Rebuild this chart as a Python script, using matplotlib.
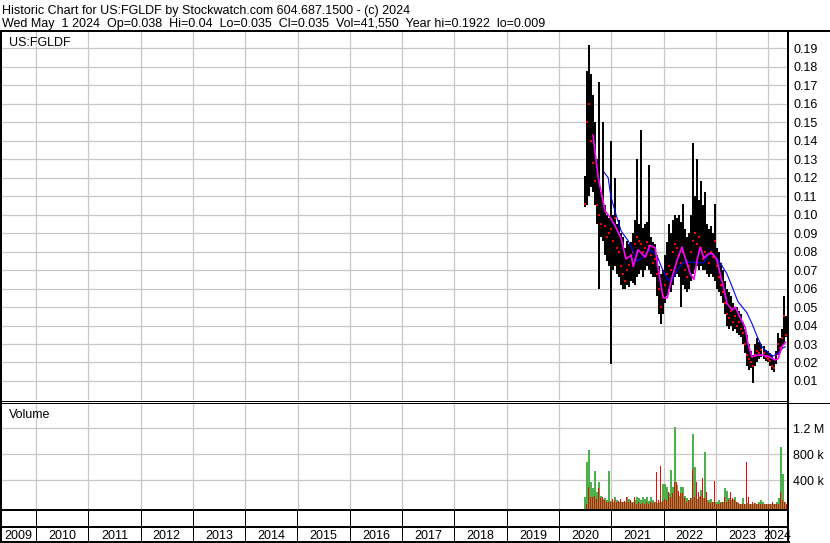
import numpy as np
import pandas as pd
import matplotlib
matplotlib.use('Agg')
import matplotlib.pyplot as plt
from matplotlib.lines import Line2D

# ==============================================================================
# Data
#
dates = pd.date_range('2020-07-01', periods=101, freq='14D')
highs = [
    0.121, 0.178, 0.192, 0.176, 0.165, 0.150, 0.130, 0.172, 0.112, 0.150,
    0.105, 0.100, 0.098, 0.140, 0.100, 0.120, 0.095, 0.097, 0.090, 0.088,
    0.082, 0.086, 0.084, 0.085, 0.090, 0.097, 0.130, 0.095, 0.146, 0.093,
    0.095, 0.096, 0.127, 0.088, 0.085, 0.084, 0.078, 0.072, 0.068, 0.070,
    0.078, 0.085, 0.095, 0.090, 0.097, 0.100, 0.098, 0.100, 0.096, 0.106,
    0.092, 0.088, 0.090, 0.100, 0.139, 0.110, 0.130, 0.108, 0.118, 0.105,
    0.112, 0.095, 0.092, 0.094, 0.090, 0.106, 0.082, 0.080, 0.074, 0.070,
    0.064, 0.060, 0.058, 0.056, 0.052, 0.050, 0.050, 0.048, 0.046, 0.042,
    0.038, 0.035, 0.030, 0.026, 0.024, 0.030, 0.033, 0.031, 0.030, 0.029,
    0.027, 0.026, 0.025, 0.024, 0.022, 0.026, 0.036, 0.033, 0.038, 0.056,
    0.045,
]
lows = [
    0.104, 0.105, 0.110, 0.115, 0.112, 0.105, 0.095, 0.060, 0.088, 0.086,
    0.078, 0.075, 0.072, 0.019, 0.070, 0.072, 0.068, 0.066, 0.062, 0.060,
    0.060, 0.062, 0.061, 0.064, 0.063, 0.062, 0.066, 0.068, 0.070, 0.066,
    0.070, 0.072, 0.070, 0.068, 0.066, 0.066, 0.056, 0.046, 0.041, 0.046,
    0.052, 0.056, 0.060, 0.058, 0.062, 0.066, 0.068, 0.066, 0.050, 0.062,
    0.060, 0.058, 0.060, 0.064, 0.068, 0.070, 0.072, 0.070, 0.072, 0.070,
    0.070, 0.068, 0.066, 0.068, 0.066, 0.064, 0.060, 0.058, 0.056, 0.052,
    0.046, 0.040, 0.038, 0.040, 0.037, 0.038, 0.036, 0.035, 0.034, 0.030,
    0.025, 0.018, 0.016, 0.017, 0.009, 0.018, 0.020, 0.022, 0.023, 0.022,
    0.021, 0.020, 0.018, 0.016, 0.015, 0.019, 0.024, 0.025, 0.028, 0.030,
    0.034,
]
closes = [
    0.106, 0.150, 0.160, 0.140, 0.128, 0.118, 0.105, 0.100, 0.095, 0.108,
    0.094, 0.088, 0.090, 0.092, 0.086, 0.098, 0.082, 0.080, 0.072, 0.068,
    0.064, 0.070, 0.073, 0.078, 0.080, 0.084, 0.088, 0.086, 0.084, 0.080,
    0.082, 0.085, 0.083, 0.078, 0.074, 0.076, 0.068, 0.060, 0.050, 0.056,
    0.062, 0.068, 0.072, 0.070, 0.080, 0.084, 0.082, 0.078, 0.074, 0.080,
    0.070, 0.066, 0.072, 0.080, 0.086, 0.090, 0.084, 0.088, 0.082, 0.076,
    0.080, 0.078, 0.074, 0.080, 0.077, 0.086, 0.072, 0.066, 0.062, 0.058,
    0.052, 0.046, 0.044, 0.048, 0.042, 0.045, 0.040, 0.042, 0.038, 0.036,
    0.030, 0.024, 0.022, 0.020, 0.018, 0.024, 0.026, 0.025, 0.027, 0.025,
    0.023, 0.022, 0.021, 0.018, 0.017, 0.024, 0.030, 0.028, 0.033, 0.045,
    0.035,
]
                                                 # volume, thousands of shares
volume_up = [
    140, 680, 860, 375, 280, 545, 220, 375, 160, 110,
    120, 90, 540, 80, 70, 140, 90, 60, 70, 60,
    70, 140, 110, 70, 60, 90, 150, 130, 90, 150,
    110, 140, 80, 150, 90, 60, 50, 70, 60, 350,
    340, 300, 200, 555, 300, 1220, 330, 160, 300, 300,
    160, 120, 100, 120, 1120, 600, 110, 140, 250, 130,
    835, 100, 90, 110, 70, 60, 70, 90, 60, 70,
    275, 230, 120, 90, 110, 140, 60, 40, 40, 120,
    30, 50, 40, 30, 40, 50, 40, 60, 100, 60,
    30, 40, 30, 30, 40, 30, 60, 130, 910, 500,
    60,
]
volume_down = [
    40, 300, 150, 150, 160, 110, 280, 120, 150, 90,
    70, 66, 60, 110, 90, 60, 80, 110, 60, 80,
    150, 60, 90, 50, 140, 40, 60, 40, 50, 40,
    70, 40, 60, 50, 60, 528, 90, 615, 80, 110,
    90, 220, 150, 200, 380, 375, 240, 200, 200, 130,
    70, 90, 130, 570, 150, 380, 220, 160, 430, 120,
    220, 70, 50, 60, 385, 40, 40, 50, 60, 140,
    60, 90, 220, 130, 90, 60, 50, 40, 30, 40,
    680, 140, 30, 60, 50, 40, 30, 40, 40, 30,
    40, 30, 40, 60, 30, 40, 40, 220, 100, 60,
    40,
]
                                                             # moving averages
short_ma_years = [
    2020.65, 2020.75, 2020.88, 2020.99, 2021.07, 2021.19, 2021.28, 2021.38,
    2021.42, 2021.51, 2021.65, 2021.74, 2021.84, 2021.89, 2021.99, 2022.07,
    2022.16, 2022.26, 2022.35, 2022.41, 2022.51, 2022.58, 2022.64, 2022.70,
    2022.77, 2022.87, 2022.93, 2023.02, 2023.08, 2023.16, 2023.21, 2023.31,
    2023.37, 2023.46, 2023.56, 2023.61, 2023.69, 2023.79, 2023.90, 2024.03,
    2024.13, 2024.19, 2024.26, 2024.33,
]
short_ma = [
    0.143, 0.120, 0.102, 0.098, 0.094, 0.087, 0.076, 0.078,
    0.072, 0.081, 0.077, 0.0835, 0.082, 0.072, 0.055, 0.055,
    0.066, 0.0755, 0.0825, 0.077, 0.068, 0.065, 0.0755, 0.0825,
    0.0765, 0.079, 0.079, 0.0755, 0.068, 0.059, 0.052, 0.0485,
    0.050, 0.0445, 0.039, 0.0305, 0.023, 0.024, 0.024, 0.023,
    0.0214, 0.022, 0.0285, 0.031,
]
long_ma_years = [
    2020.86, 2020.94, 2020.99, 2021.09, 2021.19, 2021.32, 2021.42, 2021.49,
    2021.61, 2021.74, 2021.87, 2021.97, 2022.07, 2022.16, 2022.26, 2022.35,
    2022.45, 2022.64, 2022.77, 2022.87, 2022.97, 2023.08, 2023.21, 2023.31,
    2023.42, 2023.59, 2023.69, 2023.79, 2023.88, 2023.98, 2024.09, 2024.19,
    2024.28, 2024.33,
]
long_ma = [
    0.123, 0.120, 0.110, 0.100, 0.091, 0.086, 0.080, 0.075,
    0.077, 0.081, 0.078, 0.071, 0.065, 0.064, 0.070, 0.0735,
    0.0745, 0.074, 0.074, 0.079, 0.078, 0.074, 0.068, 0.061,
    0.053, 0.047, 0.041, 0.034, 0.0285, 0.0257, 0.0235, 0.025,
    0.0279, 0.0285,
]
                                                                 # axis labels
years = list(range(2009, 2025))
year_label_pos = [2009.67] + [y + 0.5 for y in range(2010, 2024)] + [2024.18]
price_ticks = [round(0.01*k, 2) for k in range(1, 20)]
volume_ticks = [400e3, 800e3, 1.2e6]
volume_tick_labels = ['400 k', '800 k', '1.2 M']

title_line = 'Historic Chart for US:FGLDF by Stockwatch.com 604.687.1500 - (c) 2024'
info_line = ('Wed May  1 2024  Op=0.038  Hi=0.04  Lo=0.035  Cl=0.035  '
             'Vol=41,550  Year hi=0.1922  lo=0.009')

# ==============================================================================
# Constants
#
W, H = 830, 543
X_MIN, X_MAX = 2009.35, 2024.378
PX_YEAR = 52.3
PX = 0.72                                       # one pixel, in points
GRID_COLOR = '#c8c8c8'
UP_COLOR = '#4cb04c'
DOWN_COLOR = '#ff0000'
FONT_SIZE = 9

plt.rcParams['font.family'] = ['Liberation Sans', 'DejaVu Sans']


def px_rect(x0, y0, x1, y1):
    return [x0/W, 1 - y1/H, (x1 - x0)/W, (y1 - y0)/H]


def fig_line(fig, xs, ys, lw=1.0, color='black'):
    fig.add_artist(Line2D([x/W for x in xs], [1 - y/H for y in ys],
                          transform=fig.transFigure, color=color,
                          linewidth=lw*PX, solid_capstyle='butt'))


def fig_text(fig, x, y, s, **kw):
    fig.text(x/W, 1 - y/H, s, fontsize=FONT_SIZE, **kw)


def decimal_year(d):
    days = 366 if d.is_leap_year else 365
    return d.year + (d.dayofyear - 1)/days


t = np.array([decimal_year(d) for d in dates])

# ==============================================================================
# Plot
#
fig = plt.figure(figsize=(W/100, H/100), dpi=100)
fig.patch.set_facecolor('white')
                                                                  # price panel
ax = fig.add_axes(px_rect(2, 31, 788, 400))
ax.set_xlim(X_MIN, X_MAX)
ax.set_ylim(-0.0003, 0.1994)
ax.set_xticks(years[1:])
ax.set_yticks(price_ticks)
ax.grid(True, color=GRID_COLOR, linewidth=0.9)
ax.set_axisbelow(True)
ax.tick_params(axis='x', length=0, labelbottom=False)
ax.tick_params(axis='y', length=0, labelleft=False, labelright=True,
               labelsize=FONT_SIZE, pad=4.3)
for s in ax.spines.values():
    s.set_visible(False)
ax.vlines(t, lows, highs, color='black', linewidth=1.1, antialiased=False)
ax.scatter(t, closes, marker='s', s=3.5, color='red', linewidths=0, zorder=3)
ax.plot(long_ma_years, long_ma, color='#0000ff', linewidth=0.8, zorder=4)
ax.plot(short_ma_years, short_ma, color='#ff00ff', linewidth=1.2, zorder=5)
                                                                 # volume panel
vax = fig.add_axes(px_rect(2, 402, 788, 509))
vax.set_xlim(X_MIN, X_MAX)
v_base = -42e3
vax.set_ylim(v_base, 1.605e6)
vax.set_xticks(years[1:])
vax.set_yticks(volume_ticks)
vax.set_yticklabels(volume_tick_labels)
vax.grid(True, color=GRID_COLOR, linewidth=0.9)
vax.set_axisbelow(True)
vax.tick_params(axis='x', length=0, labelbottom=False)
vax.tick_params(axis='y', length=0, labelleft=False, labelright=True,
                labelsize=FONT_SIZE, pad=3.6)
for s in vax.spines.values():
    s.set_visible(False)
up = np.array(volume_up)*1e3
down = np.array(volume_down)*1e3
vax.vlines(t - 0.5/PX_YEAR, v_base, up, color=UP_COLOR,
           linewidth=2*PX, antialiased=False)
vax.vlines(t + 0.7/PX_YEAR, v_base, down, color=DOWN_COLOR,
           linewidth=PX, antialiased=False)
                                                      # empty row, year labels
for year in years[1:]:
    x = 2 + (year - X_MIN)*PX_YEAR
    fig_line(fig, [x, x], [509, 541], lw=1)
for year, pos in zip(years, year_label_pos):
    x = 2 + (pos - X_MIN)*PX_YEAR
    fig_text(fig, x, 539, str(year), ha='center', va='baseline')
                                                                  # frame lines
fig_line(fig, [0, W], [30.5, 30.5], lw=2)
fig_line(fig, [1, 1], [30, 542], lw=2)
fig_line(fig, [788, 788], [30, 542], lw=2)
fig_line(fig, [0, 788], [400.5, 400.5], lw=1)
fig_line(fig, [0, W], [402.5, 402.5], lw=1)
fig_line(fig, [0, 788], [509.5, 509.5], lw=2)
fig_line(fig, [0, 788], [526.5, 526.5], lw=2)
fig_line(fig, [0, 790], [541.5, 541.5], lw=2)
                                                                        # texts
fig_text(fig, 2, 14, title_line, va='baseline')
fig_text(fig, 2, 27.5, info_line, va='baseline')
fig_text(fig, 9, 46, 'US:FGLDF', va='baseline')
fig_text(fig, 9, 418, 'Volume', va='baseline')

plt.savefig('out.png', dpi=100)
